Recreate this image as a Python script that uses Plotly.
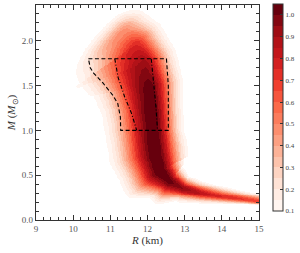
import numpy as np
import plotly.graph_objects as go
import plotly.colors as pc

# ---- data ----
# ridge (density maximum) of the M-R band, from the low-mass tail to the top
ridge_R = [15.3, 14.6, 14.0, 13.4, 12.95, 12.6, 12.35, 12.22, 12.17, 12.12, 12.05, 11.9, 11.65, 11.38]
ridge_M = [0.195, 0.23, 0.26, 0.30, 0.35, 0.43, 0.55, 0.75, 1.0, 1.25, 1.5, 1.75, 1.95, 2.07]
ridge_peak = [0.65, 0.7, 0.75, 0.85, 0.95, 1.02, 1.06, 1.06, 1.06, 1.06, 1.03, 0.93, 0.75, 0.5]
# distance (screen px) from the ridge to the faint (0.1) edge, concave / convex side
edge_concave = [4, 5, 7, 10, 14, 26, 42, 47, 49, 51, 58, 70, 72, 64]
edge_convex = [7, 8, 10, 12, 14, 21, 29, 33, 30, 31, 34, 34, 33, 30]

# dashed region
dash_R = [10.41, 12.51, 12.56, 12.56, 11.28, 11.27, 11.20, 11.07, 10.80, 10.55, 10.46, 10.41]
dash_M = [1.80, 1.80, 1.50, 1.00, 1.00, 1.15, 1.30, 1.39, 1.53, 1.64, 1.70, 1.80]
# dash-dot bounds
dd_left_R = [11.12, 11.21, 11.39, 11.57, 11.71]
dd_left_M = [1.80, 1.59, 1.37, 1.19, 1.00]
dd_right_R = [12.10, 12.16, 12.22, 12.27]
dd_right_M = [1.80, 1.55, 1.30, 1.00]

levels = [round(0.1 + 0.05 * k, 2) for k in range(20)]  # 0.1 .. 1.05
cbar_ticks = [0.1, 0.2, 0.3, 0.4, 0.5, 0.6, 0.7, 0.8, 0.9, 1.0]

# ---- build density field from the ridge description ----
SX, SY = 37.2, 90.0   # px per km, px per Msun
CAP = 11.0
R = np.linspace(9, 15, 301)
M = np.linspace(0, 2.4, 241)
RR, MM = np.meshgrid(R, M)
X = (RR - 9) * SX
Y = MM * SY
px = (np.array(ridge_R) - 9) * SX
py = np.array(ridge_M) * SY
nseg = len(px) - 1
seglen = np.hypot(np.diff(px), np.diff(py))
cum = np.concatenate([[0], np.cumsum(seglen)])

best = np.full(X.shape, np.inf)
signed = np.zeros(X.shape)
along = np.zeros(X.shape)
tpar = np.zeros(X.shape)
for i in range(nseg):
    ax, ay = px[i], py[i]
    dx, dy = px[i + 1] - ax, py[i + 1] - ay
    L = seglen[i]
    u = ((X - ax) * dx + (Y - ay) * dy) / L ** 2
    cross = (dx * (Y - ay) - dy * (X - ax)) / L
    uc = np.clip(u, 0, 1)
    qx, qy = ax + uc * dx, ay + uc * dy
    dist = np.hypot(X - qx, Y - qy)
    cap = np.zeros(X.shape, bool)
    exc = np.zeros(X.shape)
    if i == 0:
        cap |= u < 0
        exc = np.where(u < 0, -u * L, exc)
    if i == nseg - 1:
        cap |= u > 1
        exc = np.where(u > 1, (u - 1) * L, exc)
    sg = np.where(cap, cross, np.sign(cross) * dist)
    upd = dist < best
    best = np.where(upd, dist, best)
    signed = np.where(upd, sg, signed)
    along = np.where(upd, exc, along)
    tpar = np.where(upd, cum[i] + uc * L, tpar)

a = np.interp(tpar, cum, ridge_peak)
wl = np.interp(tpar, cum, edge_concave)
wr = np.interp(tpar, cum, edge_convex)
W = np.where(signed > 0, wl, wr)
sig = W / np.sqrt(2 * np.log(a / 0.1))
z = a * np.exp(-0.5 * (signed / sig) ** 2) * np.exp(-0.5 * (along / CAP) ** 2)

nb = len(levels) - 1
k = np.floor((z - levels[0]) / 0.05)
k = np.clip(k, -1, nb - 1)
zq = np.where(k < 0, np.nan, levels[0] + 0.05 * (k + 0.5))
zq = np.round(zq, 3)

cols = pc.sample_colorscale("Reds", [j / (nb - 1) for j in range(nb)])
cscale = []
for j, c in enumerate(cols):
    cscale.append([j / nb, c])
    cscale.append([(j + 1) / nb, c])

fig = go.Figure()
fig.add_trace(go.Heatmap(
    x=R, y=M, z=zq, zmin=levels[0], zmax=levels[-1], colorscale=cscale,
    zsmooth=False, hoverinfo="skip",
    colorbar=dict(
        x=(273 - 36) / 223, xanchor="left", y=(220 - 4) / 215, yanchor="top",
        len=207 / 215, lenmode="fraction", thickness=10, xpad=0, ypad=0,
        outlinewidth=1, outlinecolor="#333",
        tickvals=cbar_ticks, ticktext=[f"{v:.1f}" for v in cbar_ticks],
        ticks="inside", ticklen=3, tickcolor="#333",
        tickfont=dict(family="Liberation Serif", size=7, color="#444"),
    ),
))
fig.add_trace(go.Scatter(x=dash_R, y=dash_M, mode="lines",
                         line=dict(color="black", width=1.1, dash="4px,2.5px"),
                         hoverinfo="skip", showlegend=False))
for xs, ys in ((dd_left_R, dd_left_M), (dd_right_R, dd_right_M)):
    fig.add_trace(go.Scatter(x=xs, y=ys, mode="lines",
                             line=dict(color="black", width=1.1, dash="4px,2px,1px,2px"),
                             hoverinfo="skip", showlegend=False))

axis_common = dict(
    showline=True, linecolor="#333", linewidth=1.2, mirror="ticks",
    ticks="inside", ticklen=5, tickwidth=1, tickcolor="#333",
    showgrid=False, zeroline=False, automargin=True,
    tickfont=dict(family="Liberation Serif", size=9, color="#555"),
)
fig.update_xaxes(range=[9, 15], dtick=1, tick0=9,
                 minor=dict(dtick=0.2, ticks="inside", ticklen=2.5, tickcolor="#333", showgrid=False),
                 title=dict(text="<i>R</i> (km)", standoff=1,
                            font=dict(family="Liberation Serif", size=11, color="#333")),
                 **axis_common)
fig.update_yaxes(range=[0, 2.4], dtick=0.5, tick0=0, tickformat=".1f",
                 minor=dict(dtick=0.1, ticks="inside", ticklen=2.5, tickcolor="#333", showgrid=False),
                 title=dict(text="<i>M</i> (<i>M</i><sub>⊙</sub>)", standoff=3,
                            font=dict(family="Liberation Serif", size=11, color="#333")),
                 **axis_common)
fig.update_layout(
    width=300, height=253, margin=dict(l=36, r=41, t=5, b=33, autoexpand=False),
    paper_bgcolor="white", plot_bgcolor="white", showlegend=False,
)
fig.write_html("out.html", config={"displayModeBar": False},
               post_script="document.body.style.margin='0';document.body.style.padding='0';")
